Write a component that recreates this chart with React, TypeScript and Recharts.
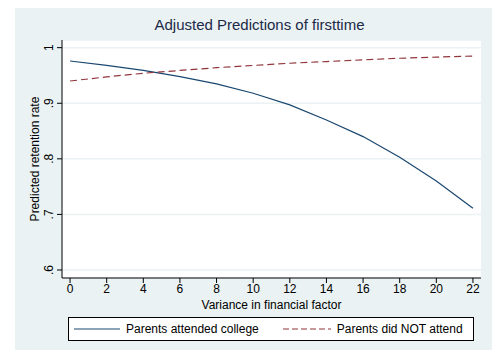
import React from 'react';
import {
  LineChart,
  Line,
  XAxis,
  YAxis,
  CartesianGrid,
  Legend,
} from 'recharts';

const variance = [0, 2, 4, 6, 8, 10, 12, 14, 16, 18, 20, 22];
const attendedCollege = [0.976, 0.968, 0.959, 0.948, 0.935, 0.918, 0.897, 0.87, 0.84, 0.803, 0.76, 0.711];
const didNotAttend = [0.94, 0.9475, 0.954, 0.959, 0.964, 0.968, 0.972, 0.975, 0.978, 0.981, 0.983, 0.985];
const yTicks = [0.6, 0.7, 0.8, 0.9, 1];
const yTickLabels = ['.6', '.7', '.8', '.9', '1'];

const NAVY = '#1a476f';
const MAROON = '#90353b';
const BG = '#eaf2f3';
const FONT = '"Liberation Sans", Arial, Helvetica, sans-serif';

const data = variance.map((v, i) => ({
  v,
  college: attendedCollege[i],
  notAttend: didNotAttend[i],
}));

// Stata-style rotated y tick labels
const YTick = (props: any) => {
  const { x, y, payload } = props;
  const idx = yTicks.indexOf(payload.value);
  const label = idx >= 0 ? yTickLabels[idx] : String(payload.value);
  const cx = x - 6;
  return (
    <text
      x={cx}
      y={y}
      transform={`rotate(-90, ${cx}, ${y})`}
      textAnchor="middle"
      dominantBaseline="central"
      fontSize={12}
      fontFamily={FONT}
      fill="#000"
    >
      {label}
    </text>
  );
};

const LegendBox = () => (
  <div
    style={{
      border: '1px solid #000',
      background: '#fff',
      height: 22,
      display: 'flex',
      alignItems: 'center',
      fontFamily: FONT,
      fontSize: 12,
      color: '#000',
    }}
  >
    <svg width={52} height={10} style={{ marginLeft: 5 }}>
      <line x1={0} y1={5} x2={46} y2={5} stroke={NAVY} strokeWidth={1.2} />
    </svg>
    <span>Parents attended college</span>
    <svg width={54} height={10} style={{ marginLeft: 22 }}>
      <line x1={2} y1={5} x2={50} y2={5} stroke={MAROON} strokeWidth={1.2} strokeDasharray="6 3" />
    </svg>
    <span style={{ marginLeft: 2 }}>Parents did NOT attend</span>
  </div>
);

export default function App() {
  return (
    <div style={{ position: 'absolute', left: 0, top: 0, width: 495, height: 350, background: '#fff' }}>
      <div style={{ position: 'absolute', left: 15, top: 8, width: 477, height: 342, background: BG }} />
      <div
        style={{
          position: 'absolute',
          left: 0,
          top: 16,
          width: 495,
          textAlign: 'center',
          fontFamily: FONT,
          fontSize: 15,
          color: '#1c2a48',
          paddingLeft: 24,
          boxSizing: 'border-box',
        }}
      >
        Adjusted Predictions of firsttime
      </div>
      <div style={{ position: 'absolute', left: 0, top: 0 }}>
        <LineChart
          width={495}
          height={350}
          data={data}
          margin={{ top: 40, right: 14, bottom: 9, left: 15 }}
        >
          <CartesianGrid
            horizontal
            vertical={false}
            fill="#fff"
            stroke={BG}
            strokeWidth={1.5}
          />
          <XAxis
            dataKey="v"
            type="number"
            domain={[-0.44, 22.44]}
            ticks={variance}
            height={39}
            stroke="#000"
            tickSize={5}
            tick={{ fontSize: 12, fontFamily: FONT, fill: '#000' }}
            tickMargin={1}
            label={{
              value: 'Variance in financial factor',
              position: 'insideBottom',
              offset: 8,
              fontSize: 12,
              fontFamily: FONT,
              fill: '#000',
            }}
          />
          <YAxis
            type="number"
            domain={[0.5856, 1.0138]}
            ticks={yTicks}
            width={47}
            stroke="#000"
            tickSize={5}
            tickMargin={2}
            tick={<YTick />}
            label={{
              value: 'Predicted retention rate',
              angle: -90,
              position: 'insideLeft',
              offset: 20,
              style: { textAnchor: 'middle' },
              fontSize: 12,
              fontFamily: FONT,
              fill: '#000',
            }}
          />
          <Legend
            verticalAlign="bottom"
            content={<LegendBox />}
            wrapperStyle={{ left: 68, width: 406 }}
          />
          <Line
            type="linear"
            dataKey="college"
            stroke={NAVY}
            strokeWidth={1.2}
            dot={false}
            isAnimationActive={false}
          />
          <Line
            type="linear"
            dataKey="notAttend"
            stroke={MAROON}
            strokeWidth={1.2}
            strokeDasharray="7 4"
            dot={false}
            isAnimationActive={false}
          />
        </LineChart>
      </div>
    </div>
  );
}
